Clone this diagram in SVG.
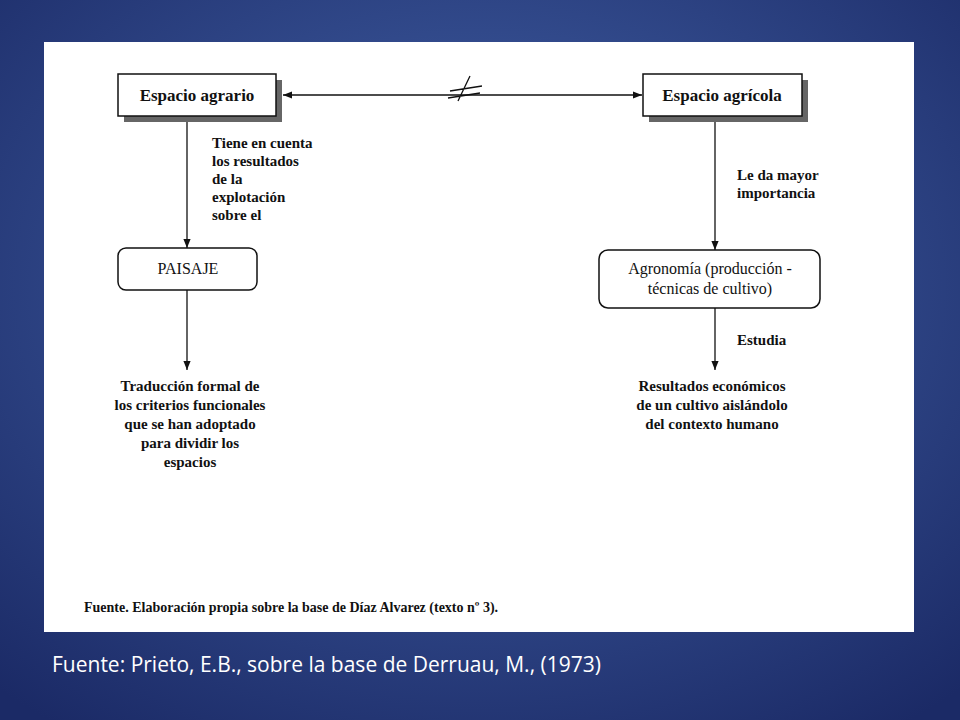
<svg xmlns="http://www.w3.org/2000/svg" width="960" height="720" viewBox="0 0 960 720">
<defs>
<radialGradient id="bg" cx="50%" cy="40%" r="75%">
<stop offset="0" stop-color="#4565ab"/><stop offset="1" stop-color="#1b2a66"/>
</radialGradient>
<marker id="ar" viewBox="0 0 10 10" refX="10" refY="5" markerWidth="7" markerHeight="7" orient="auto-start-reverse"><path d="M0,1 L10,5 L0,9 z" fill="#111"/></marker>
<style>
.t{font-family:"Liberation Serif",serif;font-size:15px;fill:#111}
.b{font-weight:bold}
.h{font-weight:bold;font-size:17px}
.n{font-size:16px}
.box{fill:#fff;stroke:#111;stroke-width:1.5}
.sh{fill:#666}
.ln{stroke:#111;stroke-width:1.3;fill:none}
</style>
</defs>
<rect width="960" height="720" fill="url(#bg)"/>
<rect x="44" y="42" width="870" height="590" fill="#fff"/>
<g id="espacio-agrario"><rect class="sh" x="124" y="80" width="158" height="42"/><rect class="box" x="118" y="74" width="158" height="42"/><text class="t h" x="197" y="101" text-anchor="middle">Espacio agrario</text></g>
<g id="espacio-agricola"><rect class="sh" x="649" y="80" width="159" height="42"/><rect class="box" x="643" y="74" width="159" height="42"/><text class="t h" x="722" y="101" text-anchor="middle">Espacio agrícola</text></g>
<g id="paisaje"><rect class="box" x="118" y="248" width="139" height="42" rx="8"/><text class="t n" x="188" y="274" text-anchor="middle">PAISAJE</text></g>
<g id="agronomia"><rect class="box" x="599" y="250" width="221" height="58" rx="9"/><text class="t n" x="710" y="274" text-anchor="middle">Agronomía (producción -</text><text class="t n" x="710" y="294" text-anchor="middle">técnicas de cultivo)</text></g>
<g id="traduccion"><text class="t b" x="190" y="391" text-anchor="middle">Traducción formal de</text><text class="t b" x="190" y="410" text-anchor="middle">los criterios funcionales</text><text class="t b" x="190" y="429" text-anchor="middle">que se han adoptado</text><text class="t b" x="190" y="448" text-anchor="middle">para dividir los</text><text class="t b" x="190" y="467" text-anchor="middle">espacios</text></g>
<g id="resultados"><text class="t b" x="712" y="391" text-anchor="middle">Resultados económicos</text><text class="t b" x="712" y="410" text-anchor="middle">de un cultivo aislándolo</text><text class="t b" x="712" y="429" text-anchor="middle">del contexto humano</text></g>
<g id="connectors">
<line class="ln" x1="283" y1="95" x2="642" y2="95" marker-start="url(#ar)" marker-end="url(#ar)"/>
<path class="ln" d="M450,91 L482,86 M448,98 L480,93 M470,76 L458,101"/>
<line class="ln" x1="187" y1="122" x2="187" y2="248" marker-end="url(#ar)"/>
<line class="ln" x1="187" y1="290" x2="187" y2="370" marker-end="url(#ar)"/>
<line class="ln" x1="715" y1="122" x2="715" y2="250" marker-end="url(#ar)"/>
<line class="ln" x1="715" y1="308" x2="715" y2="370" marker-end="url(#ar)"/>
<g class="t b"><text x="212" y="148">Tiene en cuenta</text><text x="212" y="166">los resultados</text><text x="212" y="184">de la</text><text x="212" y="202">explotación</text><text x="212" y="220">sobre el</text>
<text x="737" y="180">Le da mayor</text><text x="737" y="198">importancia</text><text x="737" y="345">Estudia</text></g>
</g>
<text class="t b" x="84" y="612" style="font-size:14px">Fuente. Elaboración propia sobre la base de Díaz Alvarez (texto nº 3).</text>
<text x="52" y="672" font-family="Open Sans,'Liberation Sans',sans-serif" font-size="21" fill="#fff">Fuente: Prieto, E.B., sobre la base de Derruau, M., (1973)</text>
</svg>
